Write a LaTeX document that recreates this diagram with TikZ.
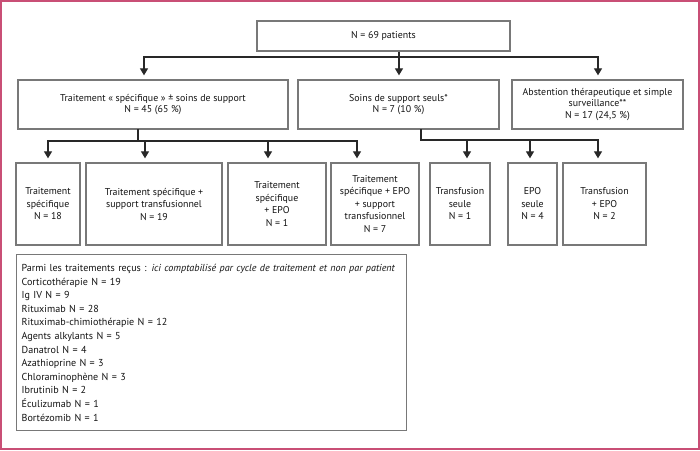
\documentclass[tikz,border=0pt]{standalone}
\usepackage{fontspec}
\setmainfont{PT Sans}
\usetikzlibrary{arrows.meta}
\definecolor{framecol}{RGB}{201,79,118}
\definecolor{boxcol}{RGB}{120,120,120}
\definecolor{conncol}{RGB}{40,40,40}
\definecolor{txtcol}{RGB}{20,20,20}
\begin{document}
\begin{tikzpicture}[x=1pt,y=-1pt,
  box/.style={draw=boxcol,line width=1.3pt,align=center,inner sep=1pt,text=txtcol},
  lvtwo/.style={box,font=\fontsize{9.9}{11.8}\selectfont,minimum height=49pt},
  lvthree/.style={box,font=\fontsize{9.9}{12.5}\selectfont,minimum height=82pt},
  listbox/.style={box,font=\fontsize{10.1}{13.6}\selectfont,align=left,anchor=north west,inner xsep=5pt,inner ysep=0pt,text width=380pt,minimum height=176pt},
  conn/.style={draw=conncol,line width=1.2pt,line cap=rect},
  arr/.style={draw=conncol,line width=1.2pt,-{Triangle[width=8pt,length=7pt]},shorten >=4pt}]
\fill[white] (0,0) rectangle (700,450);
\draw[framecol,line width=2pt] (1,1) rectangle (699,449);
\useasboundingbox (0,0) rectangle (700,450);

% nodes
\node[box,font=\fontsize{9.9}{11.8}\selectfont,minimum width=253pt,minimum height=30pt] (top) at (383.5,36) {N = 69 patients};
\node[lvtwo,minimum width=270pt] (spec) at (153,104.5) {Traitement « spécifique » ± soins de support\\N = 45 (65 \%)};
\node[lvtwo,minimum width=201pt] (soins) at (398.5,104.5) {Soins de support seuls*\\N = 7 (10 \%)};
\node[lvtwo,minimum width=171pt] (abst) at (597.5,104.5) {Abstention thérapeutique et simple\\surveillance**\\N = 17 (24,5 \%)};

\node[lvthree,minimum width=64pt] (ta) at (48,204) {Traitement\\spécifique\\N = 18};
\node[lvthree,minimum width=136pt] (tb) at (154,204) {Traitement spécifique +\\support transfusionnel\\N = 19};
\node[lvthree,minimum width=98pt] (tc) at (277,204) {Traitement\\spécifique\\+ EPO\\N = 1};
\node[lvthree,minimum width=88pt] (td) at (375,204) {Traitement\\spécifique + EPO\\+ support\\transfusionnel\\N = 7};
\node[lvthree,minimum width=60pt] (te) at (460,204) {Transfusion\\seule\\N = 1};
\node[lvthree,minimum width=49pt] (tf) at (532.5,204) {EPO\\seule\\N = 4};
\node[lvthree,minimum width=83pt] (tg) at (604.5,204) {Transfusion\\+ EPO\\N = 2};

\node[listbox] (list) at (16,254) {\mbox{Parmi les traitements reçus : \textit{ici comptabilisé par cycle de traitement et non par patient}}\\
Corticothérapie N = 19\\
Ig IV N = 9\\
Rituximab N = 28\\
Rituximab-chimiothérapie N = 12\\
Agents alkylants N = 5\\
Danatrol N = 4\\
Azathioprine N = 3\\
Chloraminophène N = 3\\
Ibrutinib N = 2\\
Éculizumab N = 1\\
Bortézomib N = 1};

% connectors level 1 -> 2
\coordinate (t0) at (399,57);
\coordinate (h1l) at (144,57);
\coordinate (h1r) at (598,57);
\draw[conn] (h1l) -- (h1r);
\draw[arr] (t0 |- top.south) -- (t0 |- soins.north);
\draw[arr] (h1l) -- (h1l |- spec.north);
\draw[arr] (h1r) -- (h1r |- abst.north);

% connectors level 2 -> 3 (left)
\coordinate (v2) at (138,141);
\coordinate (h2a) at (48,141);
\coordinate (h2b) at (145,141);
\coordinate (h2c) at (268,141);
\coordinate (h2d) at (357,141);
\draw[conn] (v2 |- spec.south) -- (v2);
\draw[conn] (h2a) -- (h2d);
\draw[arr] (h2a) -- (h2a |- ta.north);
\draw[arr] (h2b) -- (h2b |- tb.north);
\draw[arr] (h2c) -- (h2c |- tc.north);
\draw[arr] (h2d) -- (h2d |- td.north);

% connectors level 2 -> 3 (right)
\coordinate (v3) at (421,140);
\coordinate (h3e) at (467,140);
\coordinate (h3f) at (530,140);
\coordinate (h3g) at (598,140);
\draw[conn] (v3 |- soins.south) -- (v3) -- (h3g);
\draw[arr] (h3e) -- (h3e |- te.north);
\draw[arr] (h3f) -- (h3f |- tf.north);
\draw[arr] (h3g) -- (h3g |- tg.north);
\end{tikzpicture}
\end{document}
